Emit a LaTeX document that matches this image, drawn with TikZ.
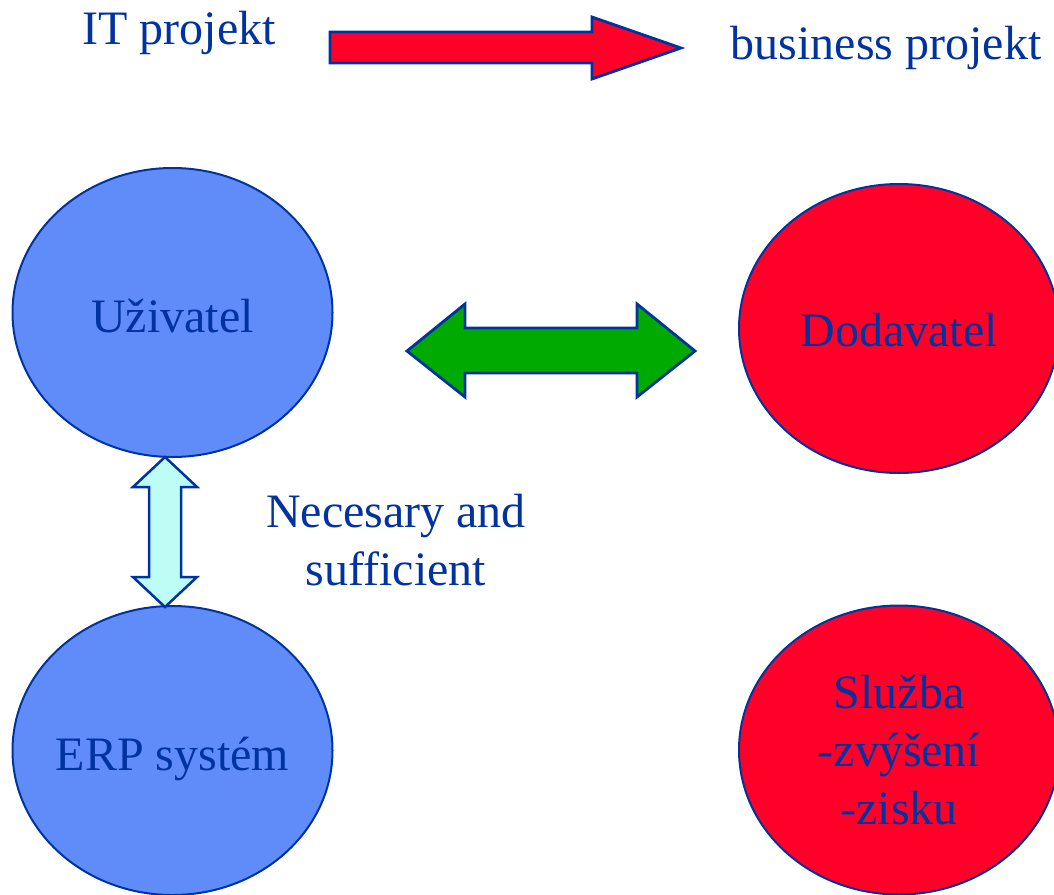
\documentclass[tikz,border=0pt]{standalone}
\usepackage{fontspec}
\setmainfont{Liberation Serif}
\usetikzlibrary{shapes.geometric}
\definecolor{ink}{HTML}{0033A0}
\definecolor{bluefill}{HTML}{5F8CF8}
\definecolor{redfill}{HTML}{FF0028}
\definecolor{greenfill}{HTML}{00AA00}
\definecolor{cyanfill}{HTML}{BEFCF6}
\begin{document}
\begin{tikzpicture}[x=1pt,y=-1pt,
  txt/.style={text=ink,font=\fontsize{48pt}{58pt}\selectfont,inner sep=0pt},
  blob/.style={txt,ellipse,draw=ink,line width=2pt,inner xsep=-30pt,inner ysep=0pt,
    minimum width=320pt,minimum height=289pt},
  userblob/.style={blob,fill=bluefill},
  firmblob/.style={blob,fill=redfill},
  oneline/.style={text height=40pt,text depth=0pt},
  blockarrow/.style={draw=ink,line width=2.8pt,line join=miter}]
\useasboundingbox (0,0) rectangle (1054,894);
\clip (0,0) rectangle (1054,894);

% heading: IT project turns into a business project
\node[txt,anchor=base] (itp) at (179,44) {IT projekt};
\node[txt,anchor=base] (bizp) at (886,59) {business projekt};
\draw[blockarrow,fill=redfill] (330,32) -- (592,32) -- (592,17) -- (681,48)
  -- (592,79) -- (592,63) -- (330,63) -- cycle;

% the four parties
\node[userblob,oneline] (uziv) at (172.5,312.5) {Uživatel};
\node[userblob,oneline] (erp) at (172.5,750.5) {ERP systém};
\node[firmblob,text height=35pt,text depth=0pt] (dod) at (899,328.5) {Dodavatel};
\node[firmblob,align=center] (sluz) at (899,750) {Služba\\-zvýšení\\ -zisku};

% user <-> supplier
\draw[blockarrow,fill=greenfill] (407,351) -- (465,304) -- (465,328) -- (637,328)
  -- (637,304) -- (695,351) -- (637,397) -- (637,373) -- (465,373) -- (465,397) -- cycle;

% user <-> ERP system
\draw[blockarrow,line width=2.5pt,fill=cyanfill] (165,457) -- (197,487) -- (181,487) -- (181,577)
  -- (197,577) -- (165,607) -- (133,577) -- (149,577) -- (149,487) -- (133,487) -- cycle;
\node[txt,align=center] (nec) at (396,540.5) {Necesary and\\sufficient};
\end{tikzpicture}
\end{document}
